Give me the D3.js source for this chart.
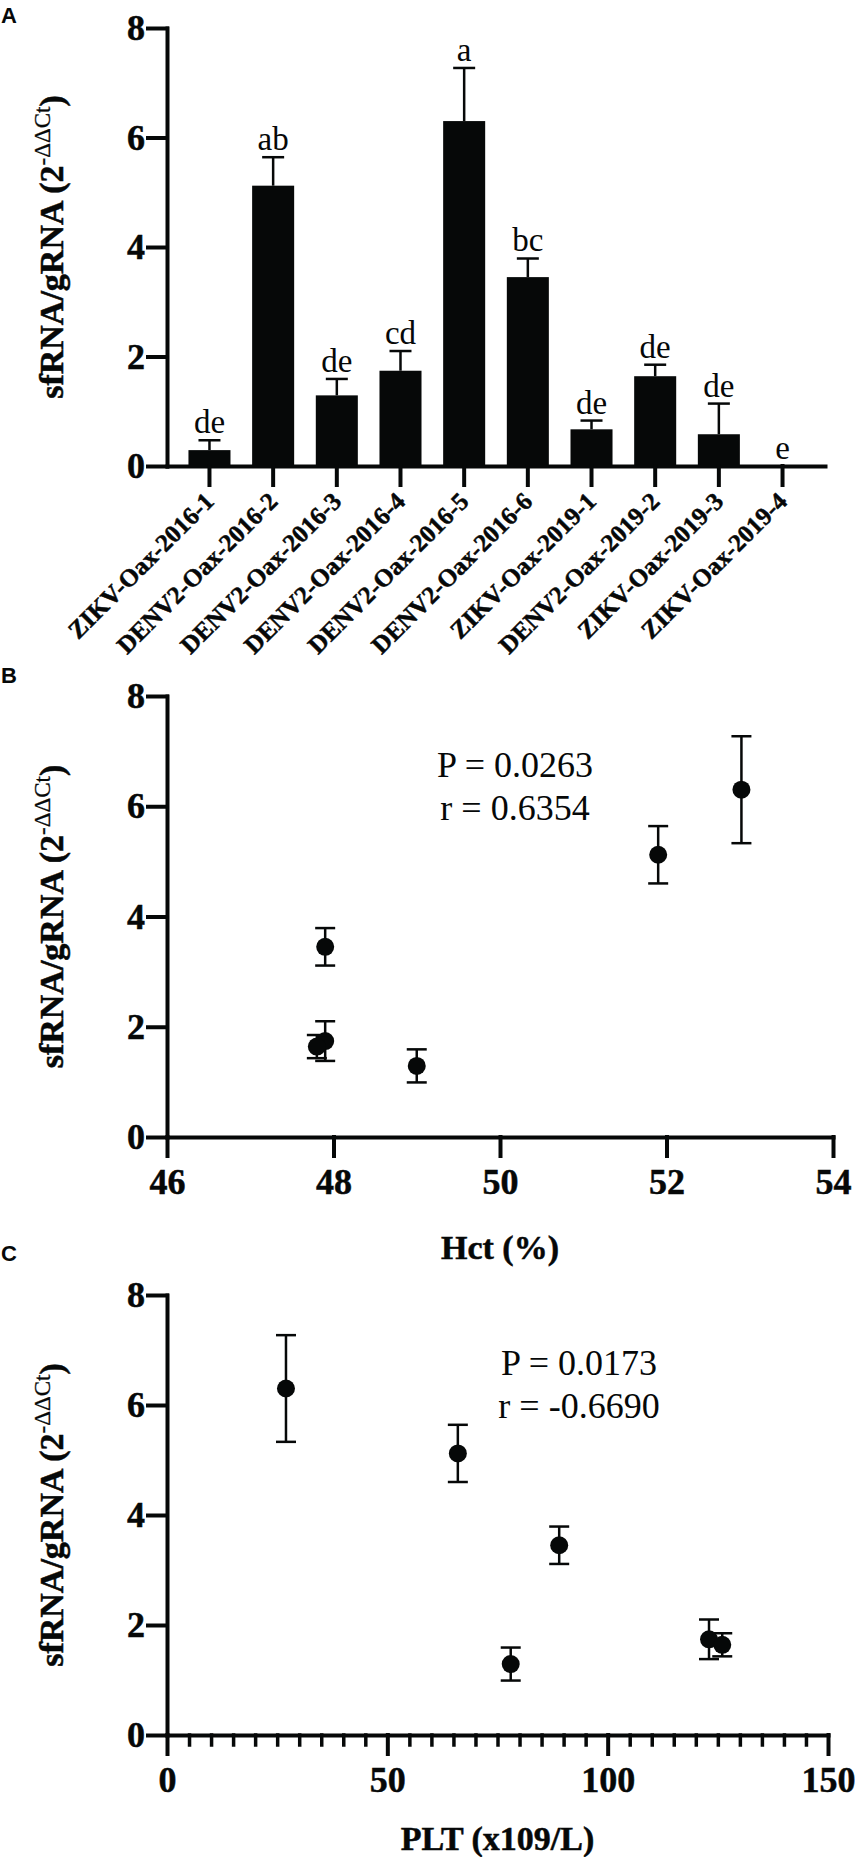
<!DOCTYPE html>
<html><head><meta charset="utf-8">
<script src="https://cdn.jsdelivr.net/npm/d3@7"></script>
<style>body{margin:0;background:#fff} svg{display:block} text{font-family:'Liberation Serif','Times New Roman',serif}</style>
</head><body>
<svg id="fig" width="855" height="1857"></svg>
<script>
// ---------- data ----------
const samples = ["ZIKV-Oax-2016-1","DENV2-Oax-2016-2","DENV2-Oax-2016-3","DENV2-Oax-2016-4","DENV2-Oax-2016-5","DENV2-Oax-2016-6","ZIKV-Oax-2019-1","DENV2-Oax-2019-2","ZIKV-Oax-2019-3","ZIKV-Oax-2019-4"];
const sfRatio = [0.29, 5.12, 1.29, 1.74, 6.30, 3.45, 0.67, 1.64, 0.58, 0];
const sfSem   = [0.18, 0.52, 0.30, 0.36, 0.97, 0.34, 0.16, 0.21, 0.56, 0];
const groupLetters = ["de","ab","de","cd","a","bc","de","de","de","e"];
const yTicks = [0, 2, 4, 6, 8];

const denvSamples = ["DENV2-Oax-2016-2","DENV2-Oax-2016-3","DENV2-Oax-2016-4","DENV2-Oax-2016-5","DENV2-Oax-2016-6","DENV2-Oax-2019-2"];
const hct = [51.9, 49.0, 47.9, 52.9, 47.9, 47.8];
const plt = [66, 78, 123, 27, 89, 126];
const hctTicks = [46, 48, 50, 52, 54];
const pltTicks = [0, 50, 100, 150];
const hctStats = ["P = 0.0263", "r = 0.6354"];
const pltStats = ["P = 0.0173", "r = -0.6690"];

// ---------- style ----------
const svg = d3.select("#fig");
const SERIF = "'Liberation Serif','Times New Roman',serif";
const SANS = "'Liberation Sans',Arial,sans-serif";
const INK = "#060808";
const AXW = 4;

function font(sel, size, weight, fam){
  sel.style("font-family", fam || SERIF).style("font-weight", weight || "normal")
    .style("font-size", size + "px").attr("fill", INK);
  if (weight === "bold" && !fam) sel.attr("stroke", INK).attr("stroke-width", 0.5);
  return sel;
}
function styleAxis(g, size){
  g.attr("font-family", null).attr("font-size", null);
  g.selectAll("path,line").attr("stroke", INK).attr("stroke-width", AXW).attr("stroke-linecap","square");
  font(g.selectAll("text"), size || 36, "bold");
}
function yTitle(cx, cy){
  const t = font(svg.append("text").attr("transform", `translate(${cx},${cy}) rotate(-90)`)
    .attr("text-anchor","middle"), 34, "bold");
  t.append("tspan").text("sfRNA/gRNA (2");
  t.append("tspan").attr("dy", -13).style("font-size", "23px").style("font-weight","normal")
    .attr("stroke-width", 0.3).text("-ΔΔCt");
  t.append("tspan").attr("dy", 13).text(")");
}
function panelLetter(txt, x, y){
  font(svg.append("text").attr("x", x).attr("y", y), 22, "bold", SANS).text(txt);
}
function errBar(g, cx, y1, y2, yc, half){
  g.append("line").attr("x1", cx).attr("x2", cx).attr("y1", y1).attr("y2", y2).attr("stroke", INK).attr("stroke-width", 2.5);
  yc.forEach(y => g.append("line").attr("x1", cx-half).attr("x2", cx+half).attr("y1", y).attr("y2", y).attr("stroke", INK).attr("stroke-width", 2.5));
}

// ---------- Panel A ----------
panelLetter("A", 1, 23);
const yA = d3.scaleLinear().domain([0, 8]).range([466, 28]);
const xA = d3.scaleBand().domain(samples).range([167, 825]).paddingInner(0.34).paddingOuter(0.337);
const gA = svg.append("g");
samples.forEach((s, i) => {
  const cx = xA(s) + xA.bandwidth()/2;
  const v = sfRatio[i], e = sfSem[i];
  if (e > 0) errBar(gA, cx, yA(v), yA(v+e), [yA(v+e)], 11);
  if (v > 0) gA.append("rect").attr("x", xA(s)).attr("y", yA(v)).attr("width", xA.bandwidth())
      .attr("height", yA(0) - yA(v)).attr("fill", INK);
  font(gA.append("text").attr("x", cx).attr("y", yA(v+e) - 7).attr("text-anchor","middle"), 33)
    .text(groupLetters[i]);
});
const axYA = svg.append("g").attr("transform","translate(167,0)")
  .call(d3.axisLeft(yA).tickValues(yTicks).tickSize(19).tickPadding(3).tickSizeOuter(0));
styleAxis(axYA);
const axXA = svg.append("g").attr("transform","translate(0,466)")
  .call(d3.axisBottom(xA).tickSize(19).tickSizeOuter(0).tickFormat(""));
styleAxis(axXA);
samples.forEach(s => {
  const cx = xA(s) + xA.bandwidth()/2;
  font(svg.append("text").attr("transform", `translate(${cx+6},${503}) rotate(-45)`)
    .attr("text-anchor","end"), 25, "bold").text(s);
});
yTitle(63, 247);

// ---------- scatter helper ----------
function scatterPanel(opts){
  const {xs, ticks, minor, yRange, xRange, stats, statX, statY, title, titleY, letter, letterY} = opts;
  panelLetter(letter, 1, letterY);
  const y = d3.scaleLinear().domain([0, 8]).range(yRange);
  const x = d3.scaleLinear().domain([ticks[0], ticks[ticks.length-1]]).range(xRange);
  const g = svg.append("g");
  denvSamples.forEach((s, i) => {
    const k = samples.indexOf(s);
    const v = sfRatio[k], e = sfSem[k];
    const cx = x(xs[i]);
    errBar(g, cx, y(v-e), y(v+e), [y(v-e), y(v+e)], 10);
    g.append("circle").attr("cx", cx).attr("cy", y(v)).attr("r", 9).attr("fill", INK);
  });
  if (minor){
    const m = svg.append("g").attr("transform", `translate(0,${yRange[0]})`)
      .call(d3.axisBottom(x).tickValues(minor).tickSize(10).tickFormat(""));
    m.select(".domain").remove();
    styleAxis(m);
    m.selectAll("line").attr("stroke-width", 3.5);
  }
  const ay = svg.append("g").attr("transform", `translate(${xRange[0]},0)`)
    .call(d3.axisLeft(y).tickValues(yTicks).tickSize(19).tickPadding(3).tickSizeOuter(0));
  styleAxis(ay);
  const ax = svg.append("g").attr("transform", `translate(0,${yRange[0]})`)
    .call(d3.axisBottom(x).tickValues(ticks).tickSize(19).tickPadding(12).tickSizeOuter(0));
  styleAxis(ax);
  stats.forEach((t, i) => {
    font(svg.append("text").attr("x", statX).attr("y", statY + i*43).attr("text-anchor","middle"), 36).text(t);
  });
  font(svg.append("text").attr("x", (xRange[0]+xRange[1])/2).attr("y", titleY).attr("text-anchor","middle"), 34, "bold")
    .text(title);
  yTitle(63, (yRange[0]+yRange[1])/2);
}

// ---------- Panel B ----------
scatterPanel({xs: hct, ticks: hctTicks, minor: null, yRange: [1137, 696], xRange: [167, 833],
  stats: hctStats, statX: 515, statY: 777, title: "Hct (%)", titleY: 1259, letter: "B", letterY: 683});

// ---------- Panel C ----------
scatterPanel({xs: plt, ticks: pltTicks, minor: d3.range(0, 151, 5).filter(v => v % 50 !== 0),
  yRange: [1735, 1295], xRange: [167, 828],
  stats: pltStats, statX: 579, statY: 1375, title: "PLT (x109/L)", titleY: 1850, letter: "C", letterY: 1261});
</script>
</body></html>
